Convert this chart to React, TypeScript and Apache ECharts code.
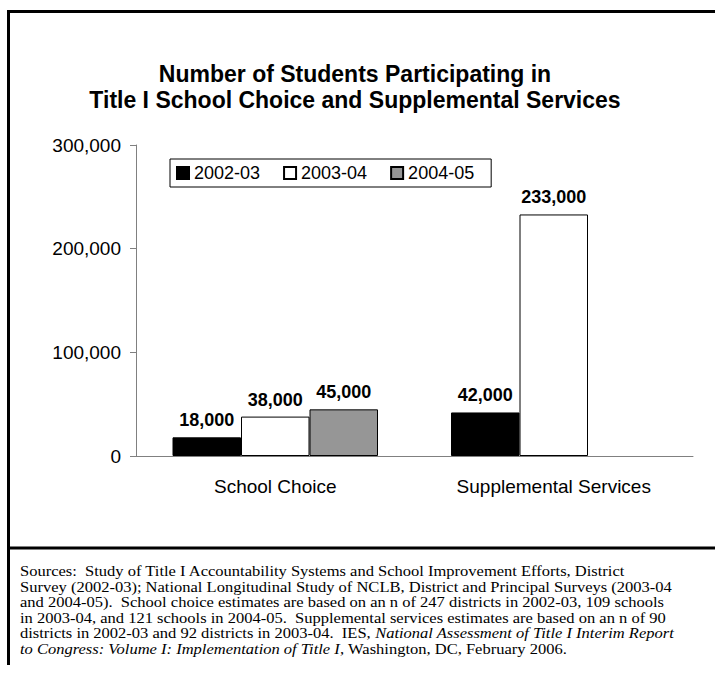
import React, { useEffect, useRef } from "react";
import * as echarts from "echarts";

const categories = ["School Choice", "Supplemental Services"];
const seriesNames = ["2002-03", "2003-04", "2004-05"];
const values2002 = [18000, 42000];
const values2003 = [38000, 233000];
const values2004: (number | null)[] = [45000, null];
const yTicks = { min: 0, max: 300000, interval: 100000 };
const titleLines = [
  "Number of Students Participating in",
  "Title I School Choice and Supplemental Services",
];
const sourceLines: { n?: string; i?: string; n2?: string }[] = [
  { n: "Sources:  Study of Title I Accountability Systems and School Improvement Efforts, District" },
  { n: "Survey (2002-03); National Longitudinal Study of NCLB, District and Principal Surveys (2003-04" },
  { n: "and 2004-05).  School choice estimates are based on an n of 247 districts in 2002-03, 109 schools" },
  { n: "in 2003-04, and 121 schools in 2004-05.  Supplemental services estimates are based on an n of 90" },
  { n: "districts in 2002-03 and 92 districts in 2003-04.  IES, ", i: "National Assessment of Title I Interim Report" },
  { i: "to Congress: Volume I: Implementation of Title I", n2: ", Washington, DC, February 2006." },
];

const SANS = "'Liberation Sans', Arial, sans-serif";
const SERIF = "'Liberation Serif', 'Times New Roman', serif";
const fmt = (v: number) => v.toLocaleString("en-US");

export default function App() {
  const ref = useRef<HTMLDivElement>(null);
  useEffect(() => {
    if (!ref.current) return;
    const chart = echarts.init(ref.current, null, { renderer: "svg" });
    const colors = ["#000000", "#ffffff", "#969696"];
    const data = [values2002, values2003, values2004];

    const srcGraphics = sourceLines.map((l, k) => {
      let text = "";
      if (l.n) text += `{n|${l.n}}`;
      if (l.i) text += `{i|${l.i}}`;
      if (l.n2) text += `{n|${l.n2}}`;
      return {
        type: "text",
        x: 20,
        y: 571 + k * 15.6,
        scaleX: 1.18,
        style: {
          text,
          verticalAlign: "middle",
          rich: {
            n: { fontFamily: SERIF, fontSize: 14, fill: "#000", lineHeight: 15 },
            i: { fontFamily: SERIF, fontSize: 14, fontStyle: "italic", fill: "#000", lineHeight: 15 },
          },
        },
      };
    });

    const titleGraphics = titleLines.map((t, k) => ({
      type: "text",
      x: 355,
      y: 74 + k * 26,
      style: {
        text: t,
        fontFamily: SANS,
        fontSize: 23,
        fontWeight: "bold",
        lineHeight: 24,
        align: "center",
        verticalAlign: "middle",
        fill: "#000",
      },
    }));

    chart.setOption({
      animation: false,
      backgroundColor: "#ffffff",
      grid: { left: 136, right: 22, top: 145, bottom: 217, containLabel: false },
      legend: {
        data: seriesNames,
        left: 170,
        top: 159,
        padding: [5, 17, 5, 6],
        itemWidth: 12,
        itemHeight: 12,
        itemGap: 23,
        icon: "rect",
        borderColor: "#000",
        borderWidth: 1,
        textStyle: { fontFamily: SANS, fontSize: 18, color: "#000" },
      },
      xAxis: {
        type: "category",
        data: categories,
        axisLine: { lineStyle: { color: "#808080", width: 1 } },
        axisTick: { show: false },
        axisLabel: { fontFamily: SANS, fontSize: 19, color: "#000", margin: 21 },
      },
      yAxis: {
        type: "value",
        min: yTicks.min,
        max: yTicks.max,
        interval: yTicks.interval,
        splitLine: { show: false },
        axisLine: { show: true, lineStyle: { color: "#808080", width: 1 } },
        axisTick: { show: true, length: 6, lineStyle: { color: "#808080" } },
        axisLabel: {
          fontFamily: SANS,
          fontSize: 19,
          color: "#000",
          margin: 15,
          padding: [3, 0, 0, 0],
          formatter: (v: number) => fmt(v),
        },
      },
      series: seriesNames.map((name, i) => ({
        name,
        type: "bar",
        data: data[i],
        barWidth: 68.5,
        barGap: "0%",
        itemStyle: { color: colors[i], borderColor: "#000", borderWidth: 1 },
        label: {
          show: true,
          position: "top",
          distance: 8,
          fontFamily: SANS,
          fontSize: 18,
          fontWeight: "bold",
          color: "#000",
          formatter: (p: any) => (p.value == null ? "" : fmt(p.value)),
        },
      })),
      graphic: [
        ...titleGraphics,
        { type: "line", shape: { x1: 7, y1: 11.5, x2: 715, y2: 11.5 }, style: { stroke: "#000", lineWidth: 3 } },
        { type: "line", shape: { x1: 8.5, y1: 10, x2: 8.5, y2: 665 }, style: { stroke: "#000", lineWidth: 3 } },
        { type: "line", shape: { x1: 7, y1: 548, x2: 715, y2: 548 }, style: { stroke: "#000", lineWidth: 3 } },
        ...srcGraphics,
      ],
    });
    return () => chart.dispose();
  }, []);
  return (
    <div
      ref={ref}
      style={{ position: "fixed", left: 0, top: 0, width: 715, height: 673, background: "#fff" }}
    />
  );
}
